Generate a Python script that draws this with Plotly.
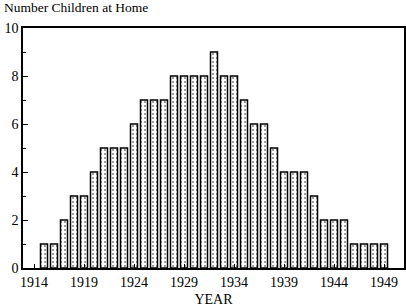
import plotly.graph_objects as go

years = list(range(1915, 1950))
children = [1, 1, 2, 3, 3, 4, 5, 5, 5, 6, 7, 7, 7, 8, 8, 8, 8, 9, 8, 8,
            7, 6, 6, 5, 4, 4, 4, 3, 2, 2, 2, 1, 1, 1, 1]
x_ticks = [1914, 1919, 1924, 1929, 1934, 1939, 1944, 1949]
y_ticks = [0, 2, 4, 6, 8, 10]

font = dict(family="Liberation Serif, Times New Roman, serif", size=14, color="black")

fig = go.Figure(go.Bar(
    x=years, y=children, width=0.7,
    marker=dict(color="white",
                line=dict(color="black", width=1.5),
                pattern=dict(shape=".", fgcolor="black", bgcolor="white", size=4, solidity=0.2)),
))

fig.update_layout(
    width=406, height=307,
    margin=dict(l=23, r=2, t=28, b=39),
    paper_bgcolor="white", plot_bgcolor="white",
    font=font,
    showlegend=False,
    title=dict(text="Number Children at Home", x=4/406, xanchor="left", xref="container",
               y=1-3/307, yanchor="top", yref="container", font=dict(font, size=13.5)),
)
fig.update_xaxes(
    range=[1912.9, 1951], tickvals=x_ticks, ticktext=[str(v) for v in x_ticks],
    ticks="inside", ticklen=4, tickcolor="black", showgrid=False, zeroline=False,
    showline=True, linecolor="black", linewidth=1.5, mirror=True, automargin=False,
    title=dict(text="YEAR", font=font, standoff=7), tickfont=font,
)
fig.update_yaxes(
    range=[0, 10], tickvals=y_ticks, ticks="inside", ticklen=5, tickcolor="black",
    minor=dict(tickvals=[1, 3, 5, 7, 9], ticks="inside", ticklen=3, tickcolor="black"),
    showgrid=False, zeroline=False, automargin=False,
    showline=True, linecolor="black", linewidth=1.5, mirror=True, tickfont=font,
)

fig.write_html("out.html")
